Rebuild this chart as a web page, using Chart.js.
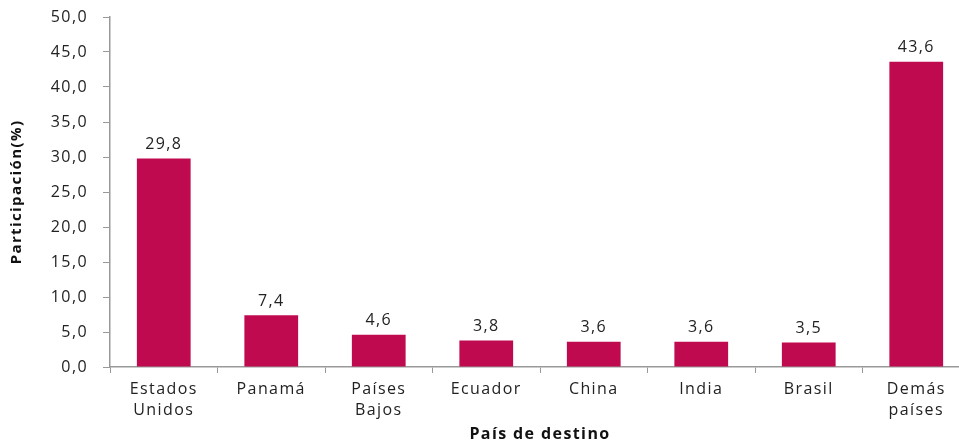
<!DOCTYPE html>
<html>
<head>
<meta charset="utf-8">
<script src="https://cdn.jsdelivr.net/npm/chart.js@4/dist/chart.umd.min.js"></script>
<style>
  html, body { margin: 0; padding: 0; background: #fff; overflow: hidden; }
  #wrap { position: relative; width: 970px; height: 444px; }
</style>
</head>
<body>
<div id="wrap"><canvas id="chart"></canvas></div>
<script>
const paises = [['Estados', 'Unidos'], 'Panamá', ['Países', 'Bajos'], 'Ecuador', 'China', 'India', 'Brasil', ['Demás', 'países']];
const participacion = [29.8, 7.4, 4.6, 3.8, 3.6, 3.6, 3.5, 43.6];
const yMax = 50;
const yStep = 5;

const fmt = v => v.toFixed(1).replace('.', ',');
const fuente = '"Open Sans", "Noto Sans", sans-serif';
const espaciado = '1.4px';

// the reference text is drawn a bit spread out
const espacio = {
    id: 'espacio',
    beforeUpdate(chart) { chart.ctx.letterSpacing = espaciado; },
    beforeDraw(chart) { chart.ctx.letterSpacing = espaciado; }
};

const etiquetas = {
    id: 'etiquetas',
    afterDatasetsDraw(chart) {
        const ctx = chart.ctx;
        const meta = chart.getDatasetMeta(0);
        ctx.save();
        ctx.font = '16px ' + fuente;
        ctx.fillStyle = '#222';
        ctx.textAlign = 'center';
        ctx.textBaseline = 'bottom';
        meta.data.forEach((bar, i) => {
            ctx.fillText(fmt(participacion[i]), bar.x, bar.y - 6);
        });
        ctx.restore();
    }
};

new Chart(document.getElementById('chart'), {
    type: 'bar',
    data: {
        labels: paises,
        datasets: [{
            data: participacion,
            backgroundColor: '#c00a50',
            barPercentage: 0.5,
            categoryPercentage: 1
        }]
    },
    options: {
        responsive: true,
        maintainAspectRatio: false,
        animation: false,
        layout: { padding: { top: 17, right: 0, left: 0, bottom: 0 } },
        plugins: {
            legend: { display: false },
            tooltip: { enabled: false }
        },
        scales: {
            x: {
                grid: { drawOnChartArea: false, tickLength: 6, color: '#999' },
                border: { color: '#999', width: 1.5 },
                ticks: {
                    color: '#222',
                    font: { family: fuente, size: 16, lineHeight: 1.3 },
                    padding: 6,
                    maxRotation: 0,
                    autoSkip: false
                },
                title: {
                    display: true,
                    text: 'País de destino',
                    color: '#111',
                    font: { family: fuente, size: 16, weight: 'bold' },
                    padding: { top: 0, bottom: 0 }
                },
                afterFit: s => { s.height = 77; s.paddingLeft = 0; s.paddingRight = 0; }
            },
            y: {
                min: 0,
                max: yMax,
                grid: { drawOnChartArea: false, tickLength: 7, color: '#999' },
                border: { color: '#999', width: 1.5 },
                ticks: {
                    stepSize: yStep,
                    color: '#222',
                    font: { family: fuente, size: 16 },
                    padding: 15,
                    callback: v => fmt(v)
                },
                title: {
                    display: true,
                    text: 'Participación(%)',
                    color: '#111',
                    font: { family: fuente, size: 15, weight: 'bold' },
                    padding: { top: 8, bottom: 0 }
                },
                afterFit: s => { s.width = 110; s.paddingTop = 0; s.paddingBottom = 0; }
            }
        }
    },
    plugins: [espacio, etiquetas]
});
</script>
</body>
</html>
